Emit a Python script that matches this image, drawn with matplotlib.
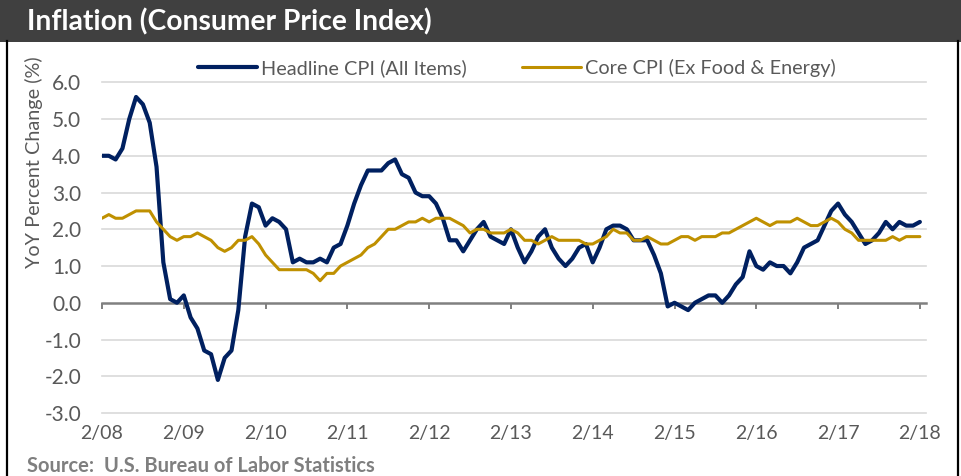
import matplotlib.pyplot as plt
from matplotlib.patches import Rectangle
from matplotlib.lines import Line2D

# monthly YoY % change, Feb 2008 .. Feb 2018
headline = [
    4.0, 4.0, 3.9, 4.2, 5.0, 5.6, 5.4, 4.9, 3.7, 1.1, 0.1,            # 2008 Feb-Dec
    0.0, 0.2, -0.4, -0.7, -1.3, -1.4, -2.1, -1.5, -1.3, -0.2, 1.8, 2.7,  # 2009
    2.6, 2.1, 2.3, 2.2, 2.0, 1.1, 1.2, 1.1, 1.1, 1.2, 1.1, 1.5,        # 2010
    1.6, 2.1, 2.7, 3.2, 3.6, 3.6, 3.6, 3.8, 3.9, 3.5, 3.4, 3.0,        # 2011
    2.9, 2.9, 2.7, 2.3, 1.7, 1.7, 1.4, 1.7, 2.0, 2.2, 1.8, 1.7,        # 2012
    1.6, 2.0, 1.5, 1.1, 1.4, 1.8, 2.0, 1.5, 1.2, 1.0, 1.2, 1.5,        # 2013
    1.6, 1.1, 1.5, 2.0, 2.1, 2.1, 2.0, 1.7, 1.7, 1.7, 1.3, 0.8,        # 2014
    -0.1, 0.0, -0.1, -0.2, 0.0, 0.1, 0.2, 0.2, 0.0, 0.2, 0.5, 0.7,     # 2015
    1.4, 1.0, 0.9, 1.1, 1.0, 1.0, 0.8, 1.1, 1.5, 1.6, 1.7, 2.1,        # 2016
    2.5, 2.7, 2.4, 2.2, 1.9, 1.6, 1.7, 1.9, 2.2, 2.0, 2.2, 2.1,        # 2017
    2.1, 2.2,                                                          # 2018 Jan-Feb
]
core = [
    2.3, 2.4, 2.3, 2.3, 2.4, 2.5, 2.5, 2.5, 2.2, 2.0, 1.8,
    1.7, 1.8, 1.8, 1.9, 1.8, 1.7, 1.5, 1.4, 1.5, 1.7, 1.7, 1.8,
    1.6, 1.3, 1.1, 0.9, 0.9, 0.9, 0.9, 0.9, 0.8, 0.6, 0.8, 0.8,
    1.0, 1.1, 1.2, 1.3, 1.5, 1.6, 1.8, 2.0, 2.0, 2.1, 2.2, 2.2,
    2.3, 2.2, 2.3, 2.3, 2.3, 2.2, 2.1, 1.9, 2.0, 2.0, 1.9, 1.9,
    1.9, 2.0, 1.9, 1.7, 1.7, 1.6, 1.7, 1.8, 1.7, 1.7, 1.7, 1.7,
    1.6, 1.6, 1.7, 1.8, 2.0, 1.9, 1.9, 1.7, 1.7, 1.8, 1.7, 1.6,
    1.6, 1.7, 1.8, 1.8, 1.7, 1.8, 1.8, 1.8, 1.9, 1.9, 2.0, 2.1,
    2.2, 2.3, 2.2, 2.1, 2.2, 2.2, 2.2, 2.3, 2.2, 2.1, 2.1, 2.2,
    2.3, 2.2, 2.0, 1.9, 1.7, 1.7, 1.7, 1.7, 1.7, 1.8, 1.7, 1.8,
    1.8, 1.8,
]
xlabels = ["2/08", "2/09", "2/10", "2/11", "2/12", "2/13", "2/14", "2/15", "2/16", "2/17", "2/18"]
yticks = [-3, -2, -1, 0, 1, 2, 3, 4, 5, 6]

NAVY = "#002060"
GOLD = "#BF9000"
TXT = "#595959"

plt.rcParams['font.family'] = ['Lato', 'DejaVu Sans']

W, H = 962, 476
fig = plt.figure(figsize=(W / 100, H / 100), dpi=100)

# title bar and frame
fig.patches.append(Rectangle((0, 1 - 42 / H), 1, 42 / H, transform=fig.transFigure,
                             facecolor="#404040", edgecolor="none", zorder=0))
fig.lines.append(Line2D([7.5 / W, 7.5 / W], [0, 1 - 41 / H], transform=fig.transFigure,
                        color="black", lw=1.6))
fig.lines.append(Line2D([958.5 / W, 958.5 / W], [0, 1 - 41 / H], transform=fig.transFigure,
                        color="black", lw=1.6))
fig.text(27 / W, 1 - 22 / H, "Inflation (Consumer Price Index)", color="white",
         fontsize=20.3, fontweight="bold", va="center", ha="left")

ax = fig.add_axes([102 / W, 1 - 413 / H, 824 / W, (413 - 82.3) / H])
x = list(range(len(headline)))
ax.plot(x, headline, color=NAVY, lw=3.0, solid_capstyle="round", solid_joinstyle="round",
        label="Headline CPI (All Items)", zorder=3)
ax.plot(x, core, color=GOLD, lw=2.2, solid_capstyle="round", solid_joinstyle="round",
        label="Core CPI (Ex Food & Energy)", zorder=4)

ax.set_ylim(-3, 6)
ax.set_xlim(0, 120.9)
ax.set_yticks(yticks)
ax.set_yticklabels(["%.1f" % v for v in yticks])
for v in yticks:
    if v != 0:
        ax.axhline(v, color="#d9d9d9", lw=1.2, zorder=1, clip_on=False)

for s in ["top", "right", "left"]:
    ax.spines[s].set_visible(False)
ax.spines["bottom"].set_position(("data", 0))
ax.spines["bottom"].set_color("#808080")
ax.spines["bottom"].set_linewidth(1.8)
ax.spines["bottom"].set_zorder(2)
ax.set_xticks(range(0, 121, 12))
ax.tick_params(axis="x", direction="out", length=4, width=1.4, color="#808080", labelbottom=False)
ax.tick_params(axis="y", length=0, pad=15, labelsize=15, labelcolor=TXT)

sec = ax.secondary_xaxis("bottom")
sec.set_xticks(range(0, 121, 12))
sec.set_xticklabels(xlabels)
sec.spines["bottom"].set_visible(False)
sec.tick_params(length=0, pad=9, labelsize=14, labelcolor=TXT)

fig.text(34 / W, 1 - 162 / H, "YoY Percent Change (%)", rotation=90, color=TXT,
         fontsize=14.3, ha="center", va="center")

fig.legend(loc="center", bbox_to_anchor=(517 / W, 1 - 68 / H), ncol=2, frameon=False,
           fontsize=14.3, handlelength=3.0, handletextpad=0.2, columnspacing=2.75,
           labelcolor=TXT)

fig.text(27 / W, 1 - 466 / H, "Source:  U.S. Bureau of Labor Statistics", color="#7f7f7f",
         fontsize=14.5, fontweight="bold", va="center", ha="left")

fig.savefig("out.png", dpi=100)
